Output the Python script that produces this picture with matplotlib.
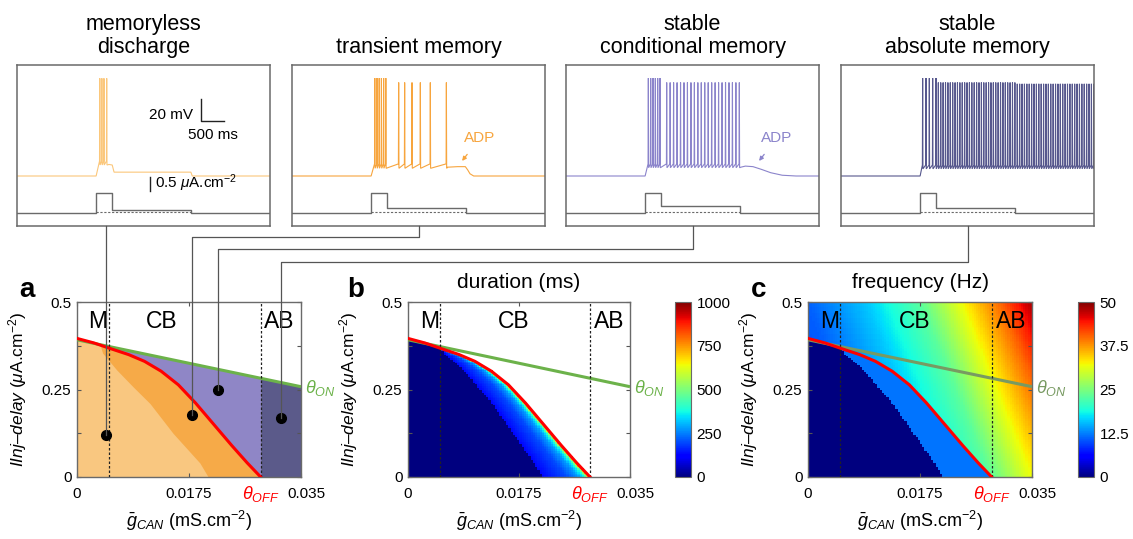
import numpy as np
import matplotlib
matplotlib.use('Agg')
import matplotlib.pyplot as plt
from matplotlib.lines import Line2D
import matplotlib.transforms as mtransforms

plt.rcParams['font.family'] = ['Liberation Sans', 'DejaVu Sans']
plt.rcParams['mathtext.fontset'] = 'custom'
plt.rcParams['mathtext.rm'] = 'Liberation Sans'
plt.rcParams['mathtext.it'] = 'Liberation Sans:italic'
plt.rcParams['mathtext.bf'] = 'Liberation Sans:bold'
plt.rcParams['mathtext.sf'] = 'Liberation Sans'

# ============================ DATA ============================
PANEL_TITLES = ['memoryless\ndischarge', 'transient memory',
                'stable\nconditional memory', 'stable\nabsolute memory']
TRACE_COLORS = ['#FBC77B', '#F7A53E', '#8B84CB', '#56578D']

T_END = 5500.0          # ms shown in each trace panel
PULSE_ON = 1720.0
PULSE_OFF = 2070.0
STEP_OFF = 3780.0
PULSE_AMP = 0.72        # uA/cm2
STEP_AMP = [0.12, 0.177, 0.25, 0.17]
REST_MV = -70.0

SPIKES_1 = [([1800, 1845, 1890, 1950], 18.8)]
SPIKES_2 = [([1800, 1848, 1896, 1944, 1992, 2040], 19.0),
            ([2319, 2449, 2609, 2790, 3007, 3356], 15.0)]
SPIKES_3 = [([1790, 1841, 1892, 1942, 1993, 2044], 19.0),
            ([2189, 2264, 2339, 2415, 2490, 2565, 2640, 2716, 2791, 2866, 2941,
              3016, 3092, 3167, 3242, 3317, 3393, 3468, 3543, 3618, 3693, 3768], 15.0)]
SPIKES_4 = [([1775, 1848, 1920, 1993, 2065], 19.0),
            ([2116, 2168, 2220, 2272, 2324, 2376, 2428, 2480, 2532, 2584, 2636,
              2688, 2740, 2792, 2844, 2896, 2948, 3000, 3052, 3104, 3156, 3208,
              3260, 3312, 3364, 3416, 3468, 3520, 3572, 3624, 3676, 3728, 3780], 15.0),
            ([3832, 3884, 3936, 3988, 4040, 4092, 4144, 4196, 4248, 4300, 4352,
              4404, 4456, 4508, 4560, 4612, 4664, 4716, 4768, 4820, 4872, 4924,
              4976, 5028, 5080, 5132, 5184, 5236, 5288, 5340, 5392, 5444, 5496], 13.8)]
SPIKES = [SPIKES_1, SPIKES_2, SPIKES_3, SPIKES_4]
TROUGH_MV = [-60.0, -63.0, -62.5, -63.5]
PRE_MV = [-56.5, -59.0, -59.0, -60.0]
POST_1 = [(2000, -59.5), (2070, -60.0), (2110, -66.5), (3780, -66.5), (3810, -70.0), (5500, -70.0)]
POST_2 = [(3380, -62.0), (3600, -61.5), (3768, -61.5), (3820, -64.5), (3870, -68.0), (3950, -70.0), (5500, -70.0)]
POST_3 = [(3800, -62.0), (3900, -61.0), (4065, -61.5), (4250, -64.0), (4450, -67.0),
          (4700, -69.3), (5000, -70.0), (5500, -70.0)]
POST_4 = [(5500, -62.0)]
POSTS = [POST_1, POST_2, POST_3, POST_4]

# bottom row: bifurcation diagram
G_MAX = 0.035
I_MAX = 0.5
THETA_OFF_X = [0.0, 0.0025, 0.0047, 0.0079, 0.0105, 0.0131, 0.0158, 0.0184,
               0.0210, 0.0236, 0.0263, 0.0287]
THETA_OFF_Y = [0.396, 0.384, 0.370, 0.351, 0.331, 0.303, 0.264, 0.214,
               0.158, 0.102, 0.046, 0.0]
THETA_ON_X = [0.0, 0.035]
THETA_ON_Y = [0.392, 0.258]
# edge of the memoryless (light orange) area in a
NOMEM_Y = [0.0, 0.04, 0.125, 0.21, 0.257, 0.306, 0.354, 0.378]
NOMEM_X = [0.0205, 0.0192, 0.0150, 0.0114, 0.0088, 0.0062, 0.0040, 0.0036]
# edge of the transient-memory band in the b / c maps
BAND_Y = [0.0, 0.03, 0.125, 0.22, 0.315, 0.369]
BAND_X = [0.0212, 0.0202, 0.0165, 0.0128, 0.0082, 0.0047]
G_M = 0.005
G_AB = 0.0287
POINT_G = [0.0045, 0.0180, 0.0220, 0.0319]
POINT_I = [0.120, 0.177, 0.249, 0.169]
REGION_LABELS = ['M', 'CB', 'AB']
REGION_X_A = [0.0017, 0.0133, 0.0316]
REGION_X_BC = [0.0019, 0.0166, 0.0317]
REGION_Y = 0.443

DUR_FRAC = [0.0, 0.5, 0.75, 0.87, 0.94, 1.0]
DUR_MS = [130, 200, 280, 380, 560, 900]
FREQ_U = [0.0, 0.011, 0.020, 0.0285, 0.035, 0.041, 0.046, 0.052]
FREQ_HZ = [9, 11, 16, 23, 32, 40, 48, 50]
FREQ_TILT = 0.022
FREQ_BAND = 12.0

DUR_TICKS = [0, 250, 500, 750, 1000]
DUR_TICKLABELS = ['0', '250', '500', '750', '1000']
FREQ_TICKS = [0, 12.5, 25, 37.5, 50]
FREQ_TICKLABELS = ['0', '12.5', '25', '37.5', '50']

# ============================ LAYOUT ============================
W, H = 1133, 539
fig = plt.figure(figsize=(W / 100, H / 100), dpi=100)
fig.patch.set_facecolor('white')


def px_axes(l, t, r, b):
    return fig.add_axes([l / W, 1 - b / H, (r - l) / W, (b - t) / H])


FRAME = '#6a6a6a'
TOP_LEFTS = [17, 292, 566, 841]
TOP_W = 253
TOP_T, TOP_B = 65, 226
V_PX = 1.1                      # px per mV
V_BOTTOM = REST_MV - (TOP_B - 176) / V_PX
V_TOP = V_BOTTOM + (TOP_B - TOP_T) / V_PX
I_BASE = V_BOTTOM + (TOP_B - 213) / V_PX
MV_PER_UA = 28.0 / V_PX


def build_trace(groups, trough, pre, post):
    t = [0.0, PULSE_ON]
    v = [REST_MV, REST_MV]
    for times, pk in groups:
        for ts in times:
            t += [ts - 6, ts, ts + 6]
            v += [pre, pk, trough]
    for (a, b) in post:
        t.append(a)
        v.append(b)
    return np.array(t), np.array(v)


top_axes = []
for k in range(4):
    ax = px_axes(TOP_LEFTS[k], TOP_T, TOP_LEFTS[k] + TOP_W, TOP_B)
    ax.set_xlim(0, T_END)
    ax.set_ylim(V_BOTTOM, V_TOP)
    ax.set_xticks([])
    ax.set_yticks([])
    for s in ax.spines.values():
        s.set_color(FRAME)
        s.set_linewidth(1.1)
    t, v = build_trace(SPIKES[k], TROUGH_MV[k], PRE_MV[k], POSTS[k])
    ax.plot(t, v, color=TRACE_COLORS[k], lw=0.8, solid_joinstyle='miter')
    # current protocol
    ct = [0, PULSE_ON, PULSE_ON, PULSE_OFF, PULSE_OFF, STEP_OFF, STEP_OFF, T_END]
    ci = [0, 0, PULSE_AMP, PULSE_AMP, STEP_AMP[k], STEP_AMP[k], 0, 0]
    ax.plot(ct, I_BASE + np.array(ci) * MV_PER_UA, color=FRAME, lw=1.0)
    ax.plot([PULSE_ON, STEP_OFF], [I_BASE + 0.04 * MV_PER_UA] * 2, color=FRAME,
            lw=0.8, ls=(0, (2, 1.5)))
    fig.text((TOP_LEFTS[k] + TOP_W / 2) / W, 1 - 58 / H, PANEL_TITLES[k],
             ha='center', va='bottom', fontsize=15.5, linespacing=1.15)
    top_axes.append(ax)

    if k in (1, 2):
        tx = [4087, 4587][k - 1]
        ax.annotate('ADP', xy=(tx - 390, -56.3), xytext=(tx, -35.5),
                    ha='center', va='center', fontsize=11, color=TRACE_COLORS[k],
                    arrowprops=dict(arrowstyle='-|>', color=TRACE_COLORS[k], lw=0.9,
                                    mutation_scale=6, shrinkA=6, shrinkB=0))

# scale bars in first panel
ax0 = top_axes[0]
ax0.plot([4000, 4000, 4500], [0, -20, -20], color='#222222', lw=1.0)
ax0.text(3830, -14.5, '20 mV', ha='right', va='center', fontsize=11)
ax0.text(4250, -32.5, '500 ms', ha='center', va='center', fontsize=11)
ax0.plot([2890, 2890], [I_BASE + 0.8 * MV_PER_UA, I_BASE + 1.3 * MV_PER_UA],
         color='#222222', lw=1.0)
ax0.text(2990, I_BASE + 1.05 * MV_PER_UA, r'0.5 $\mu$A.cm$^{-2}$', ha='left',
         va='center', fontsize=11)

# ---------------- bottom panels ----------------
A_T, A_B = 302, 477
ax_a = px_axes(77, A_T, 301, A_B)
ax_b = px_axes(408, A_T, 630, A_B)
ax_c = px_axes(808, A_T, 1032, A_B)
cax_b = px_axes(675, A_T, 691, A_B)
cax_c = px_axes(1078, A_T, 1094, A_B)

ylab = '$I\\mathit{Inj\u2013delay}$ ($\\mu$A.cm$^{-2}$)'
xlab = r'$\bar{g}_{CAN}$ (mS.cm$^{-2}$)'
GREEN = '#6CB24A'
GREEN_C = '#789A62'
RED = '#FF0000'

for ax in (ax_a, ax_b, ax_c):
    ax.set_xlim(0, G_MAX)
    ax.set_ylim(0, I_MAX)
    ax.set_xticks([0, 0.0175, 0.035])
    ax.set_xticklabels(['0', '0.0175', '0.035'])
    ax.set_yticks([0, 0.25, 0.5])
    ax.set_yticklabels(['0', '0.25', '0.5'])
    ax.set_yticks([0.125, 0.375], minor=True)
    ax.tick_params(which='both', direction='in', length=3, width=0.8, color='#555555',
                   labelsize=11, top=True, right=True)
    ax.tick_params(axis='x', pad=7)
    ax.tick_params(axis='y', pad=4)
    for s in ax.spines.values():
        s.set_color(FRAME)
        s.set_linewidth(1.0)
    ax.set_ylabel(ylab, fontsize=12.5)
    ax.yaxis.set_label_coords(-0.215, 0.5)
    ax.set_xlabel(xlab, fontsize=13)
    ax.xaxis.set_label_coords(0.5, -0.185)
    # shift "0.035" a bit to the right
    lbl = ax.get_xticklabels()[-1]
    lbl.set_transform(lbl.get_transform() +
                      mtransforms.ScaledTranslation(5 / 100, 0, fig.dpi_scale_trans))
    bt = mtransforms.blended_transform_factory(ax.transData, ax.transAxes)
    ax.text(G_AB, -0.097, r'$\theta_{OFF}$', transform=bt, ha='center', va='center',
            color=RED, fontsize=13)

# --- panel a: regions ---
xx = np.linspace(0, G_AB, 300)
red_x = np.interp(xx, THETA_OFF_X, THETA_OFF_Y)
on_x = np.interp(xx, THETA_ON_X, THETA_ON_Y)
ax_a.fill_between(xx, 0, red_x, color='#F6AA48', lw=0, zorder=1)
yy = np.linspace(0, THETA_OFF_Y[0], 300)
red_inv_y = np.interp(yy, THETA_OFF_Y[::-1], THETA_OFF_X[::-1])
nomem_y = np.interp(yy, NOMEM_Y, NOMEM_X)
ax_a.fill_betweenx(yy, 0, np.minimum(red_inv_y, nomem_y), color='#F9C780', lw=0, zorder=1.1)
ax_a.fill_between(xx, red_x, np.maximum(on_x, red_x), color='#8F86C6', lw=0, zorder=1)
xr = np.linspace(G_AB, G_MAX, 50)
ax_a.fill_between(xr, 0, np.interp(xr, THETA_ON_X, THETA_ON_Y), color='#5B5A8A', lw=0, zorder=1)

# --- heatmaps ---
NX, NY = 100, 100
gx = (np.arange(NX) + 0.5) / NX * G_MAX
gy = (np.arange(NY) + 0.5) / NY * I_MAX
GX, GY = np.meshgrid(gx, gy)
red_at = np.interp(GX, THETA_OFF_X, THETA_OFF_Y)
below = (GY < red_at) & (GX < G_AB)
red_inv = np.interp(GY, THETA_OFF_Y[::-1], THETA_OFF_X[::-1])
lo = np.interp(GY, BAND_Y, BAND_X)
nomem = below & (GX < lo)
band = below & ~nomem
frac = np.clip((GX - lo) / np.maximum(red_inv - lo, 1e-9), 0, 1)
dur = np.full(GX.shape, np.nan)
dur[nomem] = 0
dur[band] = np.interp(frac[band], DUR_FRAC, DUR_MS)
freq = np.interp(GX + FREQ_TILT * GY, FREQ_U, FREQ_HZ)
freq[nomem] = 0
freq[band] = FREQ_BAND

cmap = plt.get_cmap('jet').copy()
cmap.set_bad('white')
im_b = ax_b.imshow(np.ma.masked_invalid(dur), origin='lower', extent=[0, G_MAX, 0, I_MAX],
                   aspect='auto', cmap=cmap, vmin=0, vmax=1000, interpolation='nearest', zorder=0.5)
im_c = ax_c.imshow(freq, origin='lower', extent=[0, G_MAX, 0, I_MAX],
                   aspect='auto', cmap=cmap, vmin=0, vmax=50, interpolation='nearest', zorder=0.5)

for cax, im, tks, tl in ((cax_b, im_b, DUR_TICKS, DUR_TICKLABELS),
                         (cax_c, im_c, FREQ_TICKS, FREQ_TICKLABELS)):
    cb = fig.colorbar(im, cax=cax, ticks=tks)
    cb.set_ticklabels(tl)
    cb.outline.set_edgecolor(FRAME)
    cb.outline.set_linewidth(0.8)
    cax.tick_params(length=0, labelsize=11, pad=4)

# --- lines and labels on all three ---
xf = np.linspace(0, G_AB, 300)
for ax, gcol, rx in ((ax_a, GREEN, REGION_X_A), (ax_b, GREEN, REGION_X_BC), (ax_c, GREEN_C, REGION_X_BC)):
    ax.plot(THETA_ON_X, THETA_ON_Y, color=gcol, lw=2.2, zorder=3, solid_capstyle='butt')
    ax.plot(xf, np.interp(xf, THETA_OFF_X, THETA_OFF_Y), color=RED, lw=2.2, zorder=4,
            solid_joinstyle='round')
    for gv in (G_M, G_AB):
        ax.axvline(gv, color='#222222', lw=0.9, ls=(0, (2, 1.6)), zorder=3.5)
    for lab, x in zip(REGION_LABELS, rx):
        ax.text(x, REGION_Y, lab, ha='left' if lab == 'M' else 'center', va='center',
                fontsize=16.5, zorder=5)
    ax.text(0.0357, 0.253, r'$\theta_{ON}$', ha='left', va='center', color=gcol,
            fontsize=13, clip_on=False)

ax_a.plot(POINT_G, POINT_I, 'o', color='black', ms=7, zorder=6)

ax_b.text(0.5, 1.06, 'duration (ms)', transform=ax_b.transAxes, ha='center', va='bottom', fontsize=15)
ax_c.text(0.5, 1.06, 'frequency (Hz)', transform=ax_c.transAxes, ha='center', va='bottom', fontsize=15)

for lab, xpx in (('a', 19), ('b', 347), ('c', 751)):
    fig.text(xpx / W, 1 - 297 / H, lab, fontsize=20, fontweight='bold', ha='left', va='baseline')

# --- connector lines from traces to marked points ---
ELBOW_PX = [None, 237, 249, 262]
inv = fig.transFigure.inverted()
for k in range(4):
    pt = ax_a.transData.transform((POINT_G[k], POINT_I[k]))
    top = top_axes[k].transAxes.transform((0.5, 0))
    if ELBOW_PX[k] is None:
        pts = [(pt[0], top[1]), (pt[0], pt[1])]
    else:
        ey = H - ELBOW_PX[k]
        pts = [(top[0], top[1]), (top[0], ey), (pt[0], ey), (pt[0], pt[1])]
    fpts = inv.transform(pts)
    fig.add_artist(Line2D(fpts[:, 0], fpts[:, 1], transform=fig.transFigure,
                          color='#555555', lw=0.9, zorder=5))

fig.savefig('out.png', dpi=100, facecolor='white')
